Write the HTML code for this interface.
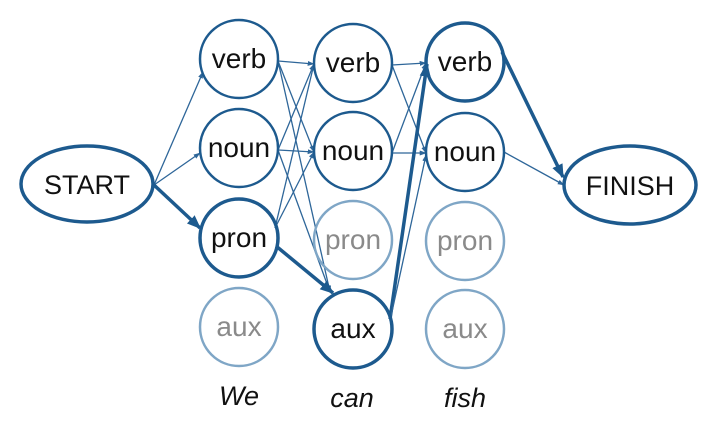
<!DOCTYPE html>
<html><head><meta charset="utf-8"><style>
html,body{margin:0;padding:0;background:#fff;}
svg{display:block;}
text{font-family:"Liberation Sans",Arial,sans-serif;}
</style></head><body>
<svg id="s" width="722" height="427" viewBox="0 0 722 427" xmlns="http://www.w3.org/2000/svg">
<defs>
<marker id="a" viewBox="0 0 10 10" refX="9" refY="5" markerWidth="7" markerHeight="7" markerUnits="userSpaceOnUse" orient="auto"><path d="M0,1.5 L10,5 L0,8.5 z" fill="#2e6699"/></marker>
<marker id="b" viewBox="0 0 10 10" refX="9" refY="5" markerWidth="14" markerHeight="14" markerUnits="userSpaceOnUse" orient="auto"><path d="M0,1 L10,5 L0,9 z" fill="#1d5a8e"/></marker>
</defs>
<g id="edges"></g>
<g id="nodes" font-size="28" text-anchor="middle">
<ellipse cx="87" cy="184" rx="66" ry="38" fill="none" stroke="#1d5a8e" stroke-width="3.5"/>
<text x="87" y="194" fill="#111" font-size="27">START</text>
<ellipse cx="630" cy="185" rx="66" ry="39" fill="none" stroke="#1d5a8e" stroke-width="3.5"/>
<text x="630" y="195" fill="#111" font-size="27">FINISH</text>
</g>
<g font-size="27" font-style="italic" text-anchor="middle" fill="#111">
<text x="239" y="405">We</text>
<text x="352" y="407">can</text>
<text x="465" y="407">fish</text>
</g>
</svg>
<script>
var NS="http://www.w3.org/2000/svg";
var cols=[239,353,465], rows=[[59,148,238,327],[63,151,240,329],[62,152,241,329]];
var labels=["verb","noun","pron","aux"];
var state=[[1,1,2,0],[1,1,0,2],[2,1,0,0]];
var R=39;
var nodes=document.getElementById("nodes"), edges=document.getElementById("edges");
function el(t,a,p){var e=document.createElementNS(NS,t);for(var k in a)e.setAttribute(k,a[k]);p.appendChild(e);return e;}
for(var c=0;c<3;c++)for(var r=0;r<4;r++){
 var s=state[c][r],x=cols[c],y=rows[c][r];
 el("circle",{cx:x,cy:y,r:R,fill:"none",stroke:s==0?"#7fa6c6":"#1d5a8e","stroke-width":s==2?3.5:2.5},nodes);
 var t=el("text",{x:x,y:y+9,fill:s==0?"#8a8a8a":"#111"},nodes);t.textContent=labels[r];
}
function line(x1,y1,x2,y2,bold){
 el("line",{x1:x1,y1:y1,x2:x2,y2:y2,stroke:bold?"#1d5a8e":"#2e6699","stroke-width":bold?3.5:1.3,"marker-end":bold?"url(#b)":"url(#a)"},edges);
}
line(154,185,203,72,0);
line(154,185,200,153,0);
line(154,185,200,228,1);
function tgt2(r){ if(r==3) return [cols[1]-20,rows[1][3]-36]; return [cols[1]-R,rows[1][r]+1]; }
[[0,0,0],[0,1,0],[0,3,0],[1,0,0],[1,1,0],[1,3,0],[2,0,0],[2,1,0],[2,3,1]].forEach(function(e){
 var sx=cols[0]+R,sy=rows[0][e[0]]+2;
 if(e[0]==2){sx=cols[0]+R-3;sy=rows[0][2]-10;if(e[2]){sx=cols[0]+R-2;sy=rows[0][2]+8;}}
 var t=tgt2(e[1]); var tx=t[0],ty=t[1];
 if(e[1]==3&&!e[2]){tx-=3;ty-=1;}
 line(sx,sy,tx,ty,e[2]);
});
[[0,0],[0,1],[1,0],[1,1]].forEach(function(e){
 line(cols[1]+R,rows[1][e[0]]+2,cols[2]-R,rows[2][e[1]]+1,0);
});
line(cols[1]+R-2,rows[1][3]-10,cols[2]-R+1,rows[2][0]+2,1);
line(cols[1]+R-2,rows[1][3]-8,cols[2]-R,rows[2][1]+3,0);
line(cols[2]+R-2,rows[2][0]-10,563,177,1);
line(cols[2]+R,rows[2][1],564,185,0);
</script>
</body></html>
